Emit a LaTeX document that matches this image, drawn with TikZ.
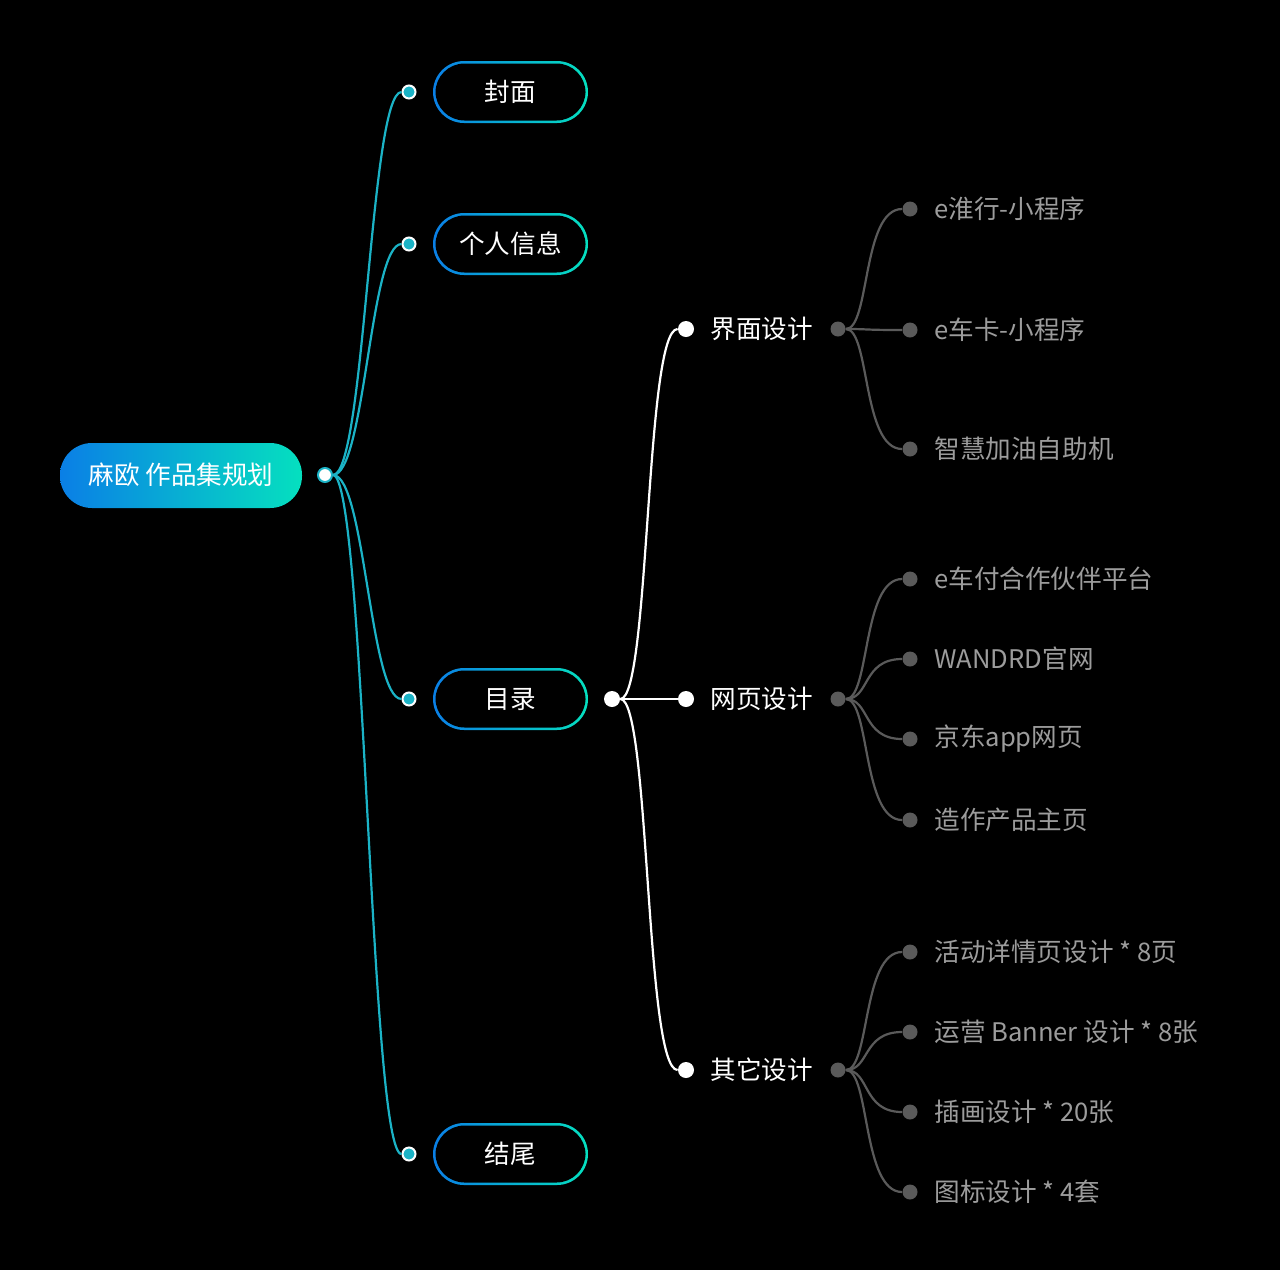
\documentclass[tikz,border=0pt]{standalone}
\usepackage{fontspec}
\setmainfont{Noto Sans CJK SC}
\begin{document}
\begin{tikzpicture}[x=0.5pt,y=-0.5pt,
  bluedot/.style={circle,fill=tealc,draw=white,line width=1pt,minimum size=6.5pt,inner sep=0},
  whitedot/.style={circle,fill=white,minimum size=8pt,inner sep=0},
  graydot/.style={circle,fill=graydot,minimum size=7.5pt,inner sep=0},
  tealline/.style={draw=tealc,line width=1.1pt},
  whiteline/.style={draw=white,line width=1.1pt},
  grayline/.style={draw=graydot,line width=1.1pt},
  leaf/.style={anchor=west,text=leafc,font=\fontsize{12.8}{14}\selectfont,inner sep=0},
  mid/.style={anchor=west,text=white,font=\fontsize{12.8}{14}\selectfont,inner sep=0},
  l1/.style={text=white,font=\fontsize{12.8}{14}\selectfont}]
\definecolor{tealc}{HTML}{1BB3C6}
\definecolor{graydot}{HTML}{5A5A5A}
\definecolor{leafc}{HTML}{9C9C9C}
\definecolor{gblue}{HTML}{0A7FE6}
\definecolor{gteal}{HTML}{05E0BF}
\fill[black] (0,0) rectangle (1280,1270);
% root
\shade[left color=gblue,right color=gteal,rounded corners=16pt] (60,443) rectangle (302,508);
\node[text=white,font=\fontsize{12.8}{14}\selectfont] (root) at (181,475) {麻欧 作品集规划};
\node[whitedot,draw=tealc,line width=1pt,minimum size=7pt] (rd) at (325,475) {};
% level1
\foreach \n/\t/\y in {a/封面/92,b/个人信息/244,c/目录/699,d/结尾/1154}{
  \shade[left color=gblue,right color=gteal,rounded corners=15.5pt] (433,\y-31) rectangle (588,\y+31);
  \fill[black,rounded corners=14.5pt] (435.5,\y-28.5) rectangle (585.5,\y+28.5);
  \node[l1] (\n) at (510.5,\y) {\t};
  \node[bluedot] (\n d) at (409,\y) {};
  \draw[tealline] (rd) .. controls (365,475) and (370,\y) .. (\n d);
}
\node[whitedot] (cd) at (612,699) {};
\foreach \n/\t/\y in {p/界面设计/329,q/网页设计/699,r/其它设计/1070}{
  \node[whitedot] (\n d) at (686,\y) {};
  \node[mid] (\n) at (710,\y) {\t};
  \draw[whiteline] (cd) .. controls (650,699) and (645,\y) .. (\n d);
  \node[graydot] (\n g) at (838,\y) {};
}
\foreach \p/\py/\n/\t/\y in {p/329/p1/e淮行-小程序/209,p/329/p2/e车卡-小程序/330,p/329/p3/智慧加油自助机/449,
  q/699/q1/e车付合作伙伴平台/579,q/699/q2/WANDRD官网/659,q/699/q3/京东app网页/739,q/699/q4/造作产品主页/820,
  r/1070/r1/活动详情页设计 * 8页/952,r/1070/r2/运营 Banner 设计 * 8张/1032,r/1070/r3/插画设计 * 20张/1112,r/1070/r4/图标设计 * 4套/1192}{
  \node[graydot] (\n d) at (910,\y) {};
  \node[leaf] (\n) at (934,\y) {\t};
  \draw[grayline] (\p g) .. controls (870,\py) and (862,\y) .. (\n d);
}
\end{tikzpicture}
\end{document}
